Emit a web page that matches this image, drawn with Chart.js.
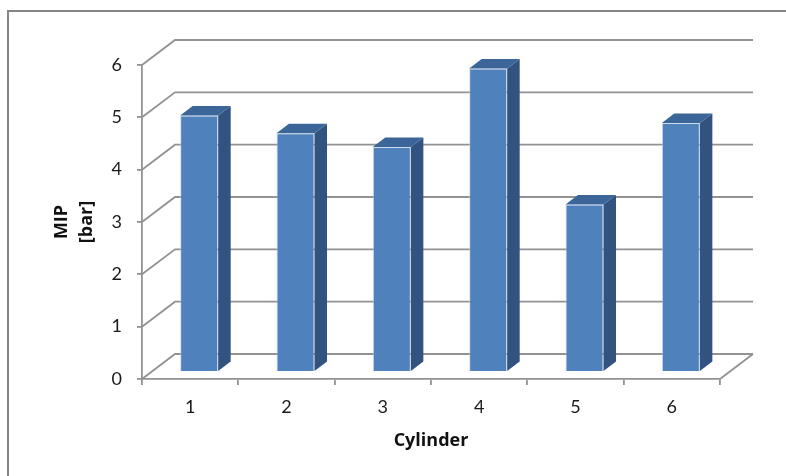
<!DOCTYPE html>
<html>
<head>
<meta charset="utf-8">
<script src="https://cdn.jsdelivr.net/npm/chart.js@4/dist/chart.umd.min.js"></script>
<style>
  html, body { margin: 0; padding: 0; background: #fff; }
  #wrap { width: 786px; height: 476px; }
</style>
</head>
<body>
<div id="wrap"><canvas id="mipChart"></canvas></div>
<script>
// data
const cylinders = ['1', '2', '3', '4', '5', '6'];
const mipValues = [4.9, 4.56, 4.3, 5.8, 3.2, 4.76];
const yTicks = [0, 1, 2, 3, 4, 5, 6];

// 3d look
const wallShift = { dx: 33, dy: 25 };   // back wall offset from the front plane
const barShift = { dx: 9, dy: 7 };      // bars sit a bit behind the front plane
const barDepth = { dx: 12.5, dy: 9.5 };
const gridColor = '#929292';
const fontFamily = 'Lato, "Open Sans", sans-serif';
const titleFamily = '"Open Sans", Lato, sans-serif';

const frame = {
  id: 'frame',
  beforeDraw(chart) {
    const ctx = chart.ctx;
    ctx.save();
    ctx.fillStyle = '#fff';
    ctx.fillRect(0, 0, chart.width, chart.height);
    ctx.strokeStyle = '#868686';
    ctx.lineWidth = 2;
    ctx.beginPath();
    ctx.moveTo(8, chart.height);
    ctx.lineTo(8, 11);
    ctx.lineTo(chart.width, 11);
    ctx.stroke();
    ctx.restore();
  }
};

const box3d = {
  id: 'box3d',
  beforeDatasetsDraw(chart) {
    const { ctx, chartArea: a, scales: { y } } = chart;
    ctx.save();
    ctx.strokeStyle = gridColor;
    ctx.lineWidth = 1.8;
    yTicks.forEach(v => {
      const py = y.getPixelForValue(v);
      ctx.beginPath();
      ctx.moveTo(a.left, py);
      ctx.lineTo(a.left + wallShift.dx, py - wallShift.dy);
      ctx.lineTo(a.right + wallShift.dx, py - wallShift.dy);
      ctx.stroke();
    });
    const y0 = y.getPixelForValue(0);
    ctx.beginPath();
    ctx.moveTo(a.right, y0);
    ctx.lineTo(a.right + wallShift.dx, y0 - wallShift.dy);
    ctx.stroke();
    ctx.restore();

    // move the bars back into the box
    ctx.save();
    ctx.translate(barShift.dx, -barShift.dy);
  },
  afterDatasetsDraw(chart) {
    const ctx = chart.ctx;
    const meta = chart.getDatasetMeta(0);
    meta.data.forEach(bar => {
      const { x, y, base, width } = bar.getProps(['x', 'y', 'base', 'width'], true);
      const l = x - width / 2, r = x + width / 2;
      // side
      ctx.fillStyle = '#325380';
      ctx.beginPath();
      ctx.moveTo(r, y);
      ctx.lineTo(r + barDepth.dx, y - barDepth.dy);
      ctx.lineTo(r + barDepth.dx, base - barDepth.dy);
      ctx.lineTo(r, base);
      ctx.closePath();
      ctx.fill();
      // top
      ctx.fillStyle = '#3c659a';
      ctx.beginPath();
      ctx.moveTo(l, y);
      ctx.lineTo(l + barDepth.dx, y - barDepth.dy);
      ctx.lineTo(r + barDepth.dx, y - barDepth.dy);
      ctx.lineTo(r, y);
      ctx.closePath();
      ctx.fill();
    });
    ctx.restore();
  }
};

const config = {
  type: 'bar',
  data: {
    labels: cylinders,
    datasets: [{
      label: 'MIP',
      data: mipValues,
      backgroundColor: '#4f81bd',
      borderColor: 'rgba(190,208,232,0.7)',
      borderWidth: 1,
      categoryPercentage: 1,
      barPercentage: 0.395,
      clip: false
    }]
  },
  options: {
    responsive: true,
    maintainAspectRatio: false,
    animation: false,
    layout: { padding: { top: 65, right: 66, left: 0, bottom: 0 } },
    plugins: {
      legend: { display: false },
      tooltip: { enabled: false }
    },
    scales: {
      x: {
        offset: true,
        grid: { display: true, drawOnChartArea: false, offset: true, tickLength: 6, color: gridColor, lineWidth: 1.8 },
        border: { color: gridColor, width: 1.8 },
        ticks: { padding: 11, color: '#1a1a1a', font: { family: fontFamily, size: 18 } },
        title: {
          display: true, text: 'Cylinder', color: '#111',
          font: { family: titleFamily, size: 18, weight: 700 },
          padding: { top: 0, bottom: 24 }
        },
        afterFit(s) { s.height = 97; }
      },
      y: {
        min: 0,
        max: 6,
        grid: { display: true, drawOnChartArea: false, tickLength: 5, color: gridColor, lineWidth: 1.8 },
        border: { color: gridColor, width: 1.8 },
        ticks: { stepSize: 1, padding: 15, color: '#1a1a1a', font: { family: fontFamily, size: 18 } },
        title: {
          display: true, text: ['MIP', '[bar]'], color: '#111',
          font: { family: titleFamily, size: 18, weight: 700, lineHeight: 1.35 },
          padding: { top: 50, bottom: 0 }
        },
        afterFit(s) { s.width = 142; }
      }
    }
  },
  plugins: [frame, box3d]
};

const mipChart = new Chart(document.getElementById('mipChart'), config);
</script>
</body>
</html>
